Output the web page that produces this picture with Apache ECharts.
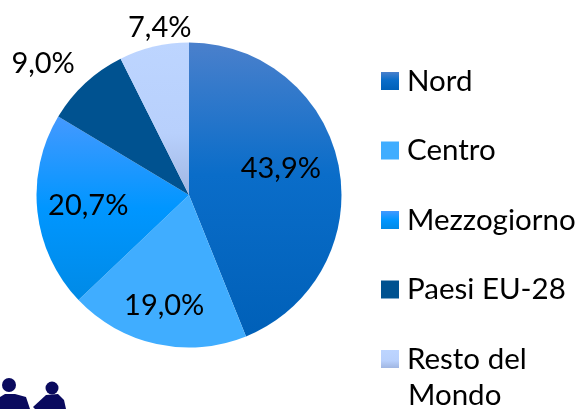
<!DOCTYPE html>
<html><head><meta charset="utf-8">
<style>html,body{margin:0;padding:0;background:#fff}#c{width:577px;height:409px}</style>
<script src="https://cdn.jsdelivr.net/npm/echarts@6/dist/echarts.min.js"></script>
</head><body><div id="c"></div>
<script>
const categories = ['Nord','Centro','Mezzogiorno','Paesi EU-28','Resto del Mondo'];
const values = [43.9,19.0,20.7,9.0,7.4];
const grad = (stops) => ({type:'linear',x:0,y:0,x2:0,y2:1,colorStops:stops.map(([offset,color])=>({offset,color}))});
const colors = [
  grad([[0,'#4a80cc'],[0.45,'#0a6dc9'],[1,'#0060b8']]),
  '#40adff',
  grad([[0,'#4499ff'],[0.5,'#0096ff'],[1,'#008ae6']]),
  '#005290',
  grad([[0,'#bdd5ff'],[0.6,'#b8d0fc'],[1,'#a0b6e2']])
];
const labelOffsets = [[14,-11],[-8,33],[-22,2],[-92,-73],[-11,-90]];
const ff = 'Lato, "Open Sans", sans-serif';
const chart = echarts.init(document.getElementById('c'),null,{renderer:'canvas'});
chart.setOption({
  animation:false,
  legend:{
    orient:'vertical',left:376,top:61,itemWidth:18,itemHeight:18,itemGap:39.5,icon:'rect',
    selectedMode:false,
    formatter:(n)=>n.replace(' Mondo',''),
    textStyle:{fontFamily:ff,fontSize:29.5,color:'#000',padding:[0,0,0,3]},
    data:categories
  },
  series:[{
    type:'pie',center:[189,195],radius:[0,152.5],startAngle:90,clockwise:true,
    silent:true,
    label:{fontFamily:ff,fontSize:29,color:'#000',position:'inside',overflow:'none',
      formatter:(p)=>p.value.toFixed(1).replace('.',',')+'%'},
    labelLine:{show:false},
    data:categories.map((name,i)=>({
      name,value:values[i],itemStyle:{color:colors[i]},
      label:{position:'inside',offset:labelOffsets[i]}
    }))
  }],
  graphic:[
    {type:'text',left:408,top:380,style:{text:'Mondo',font:'29.5px '+ff,fill:'#000'}},
    {type:'group',silent:true,children:[
      {type:'circle',shape:{cx:9,cy:385,r:7},style:{fill:'#0a0a5e'}},
      {type:'polygon',shape:{points:[[0,397],[5,394],[15,394],[26,397],[30,409],[0,409]]},style:{fill:'#0a0a5e'}},
      {type:'circle',shape:{cx:52,cy:388,r:6.5},style:{fill:'#0a0a5e'}},
      {type:'polygon',shape:{points:[[33,407],[46,395],[58,394],[64,400],[66,409],[35,409]]},style:{fill:'#0a0a5e'}}
    ]}
  ]
});
</script></body></html>
